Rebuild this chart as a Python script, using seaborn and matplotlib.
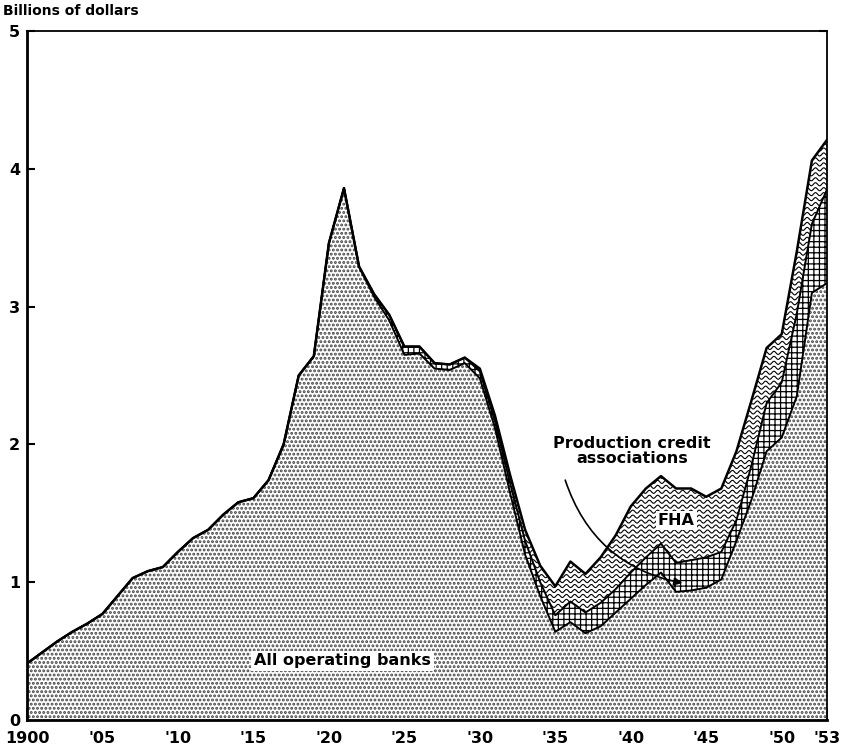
import numpy as np
import matplotlib
matplotlib.use("Agg")
import matplotlib.pyplot as plt
from matplotlib.collections import LineCollection
from matplotlib.ticker import FixedLocator, MultipleLocator
import seaborn as sns

# Farm loans outstanding, billions of dollars
years = list(range(1900, 1954))
banks = [0.41, 0.49, 0.57, 0.64, 0.70, 0.77, 0.90, 1.03, 1.08, 1.11,
         1.22, 1.32, 1.38, 1.49, 1.58, 1.61, 1.74, 2.00, 2.50, 2.64,
         3.46, 3.86, 3.29, 3.07, 2.90, 2.65, 2.66, 2.55, 2.54, 2.59,
         2.48, 2.12, 1.65, 1.20, 0.90, 0.64, 0.71, 0.63, 0.68, 0.78,
         0.88, 0.98, 1.07, 0.93, 0.94, 0.96, 1.02, 1.30, 1.60, 1.95,
         2.05, 2.35, 3.10, 3.17]
pca = [0.0] * 23 + [0.02, 0.04, 0.06, 0.05, 0.04, 0.04, 0.04,
                    0.05, 0.05, 0.07, 0.10, 0.10, 0.12, 0.15, 0.15, 0.17, 0.17,
                    0.19, 0.20, 0.21, 0.21, 0.22, 0.22, 0.20, 0.15, 0.25, 0.35,
                    0.40, 0.60, 0.50, 0.68]
fha = [0.0] * 30 + [0.02, 0.04, 0.06, 0.08, 0.12, 0.21, 0.29, 0.28, 0.33, 0.39,
                    0.48, 0.50, 0.49, 0.54, 0.52, 0.44, 0.46, 0.50, 0.47, 0.40,
                    0.35, 0.45, 0.46, 0.36]

tick_years = [1900, 1905, 1910, 1915, 1920, 1925, 1930, 1935, 1940, 1945, 1950, 1953]
tick_labels = ["1900", "'05", "'10", "'15", "'20", "'25", "'30", "'35", "'40", "'45", "'50", "'53"]

sns.set_style("ticks")
plt.rcParams['font.family'] = ['DejaVu Sans']
plt.rcParams['hatch.color'] = 'black'
plt.rcParams['text.color'] = 'black'
plt.rcParams['xtick.color'] = 'black'
plt.rcParams['ytick.color'] = 'black'
plt.rcParams['axes.edgecolor'] = 'black'

x = np.array(years, dtype=float)
b = np.array(banks)
mid = b + np.array(pca)
top = mid + np.array(fha)

fig = plt.figure(figsize=(8.46, 7.5), dpi=100)
ax = fig.add_axes([27 / 846, 1 - 720 / 750, 800 / 846, 689 / 750])

# banks: dotted texture
with plt.rc_context({'hatch.linewidth': 1.4}):
    ax.fill_between(x, 0, b, facecolor='white', edgecolor='#444444', hatch='....', linewidth=0)
# production credit associations: cross-hatched
with plt.rc_context({'hatch.linewidth': 0.9}):
    ax.fill_between(x, b, mid, facecolor='white', edgecolor='black', hatch='+++', linewidth=0)
# FHA: wavy lines, clipped to the band
fha_poly = ax.fill_between(x, mid, top, facecolor='white', edgecolor='none', linewidth=0)
wx = np.linspace(1929, 1953, 3000)
waves = [np.column_stack([wx, y0 + 0.011 * np.sin(2 * np.pi * (wx - 1929) / 0.55)])
         for y0 in np.arange(0.0, 4.4, 0.036)]
lc = LineCollection(waves, colors='black', linewidths=0.8)
ax.add_collection(lc)
lc.set_clip_path(fha_poly.get_paths()[0], ax.transData)

# boundary lines
sns.lineplot(x=x, y=b, ax=ax, color='black', linewidth=1.4)
sns.lineplot(x=x, y=mid, ax=ax, color='black', linewidth=1.4)
sns.lineplot(x=x, y=top, ax=ax, color='black', linewidth=1.8)

ax.set_xlim(1900, 1953)
ax.set_ylim(0, 5)

ax.xaxis.set_major_locator(FixedLocator(tick_years))
ax.set_xticklabels(tick_labels, fontweight='bold')
ax.xaxis.set_minor_locator(MultipleLocator(1))
ax.set_yticks([0, 1, 2, 3, 4, 5])
ax.set_yticklabels(['0', '1', '2', '3', '4', '5'], fontweight='bold')
ax.tick_params(axis='x', which='major', direction='in', length=9, width=1.2,
               labelsize=11.5, pad=8)
ax.tick_params(axis='x', which='minor', direction='in', length=5, width=1)
ax.tick_params(axis='y', which='major', direction='in', length=6, width=1.5,
               labelsize=11.5, pad=5, right=True)
for s in ['left', 'bottom']:
    ax.spines[s].set_linewidth(2.0)
for s in ['top', 'right']:
    ax.spines[s].set_linewidth(1.3)
    ax.spines[s].set_visible(True)
ax.set_xlabel('')
ax.set_ylabel('')

fig.text(0.004, 0.985, 'Billions of dollars', fontsize=10, fontweight='bold', va='center')

ax.text(1920.9, 0.43, 'All operating banks', fontsize=11.5, fontweight='bold',
        ha='center', va='center',
        bbox=dict(facecolor='white', edgecolor='none', pad=2))
ax.text(1943.0, 1.445, 'FHA', fontsize=11.5, fontweight='bold', ha='center', va='center',
        bbox=dict(facecolor='white', edgecolor='none', pad=1.5))
ax.text(1940.1, 1.95, 'Production credit\nassociations', fontsize=11.5, fontweight='bold',
        ha='center', va='center', linespacing=1.0)
ax.annotate('', xy=(1943.6, 0.99), xytext=(1935.6, 1.76),
            arrowprops=dict(arrowstyle='-|>', connectionstyle='arc3,rad=0.3',
                            color='black', lw=1.2, mutation_scale=12))

fig.savefig('out.png', dpi=100, facecolor='white')
